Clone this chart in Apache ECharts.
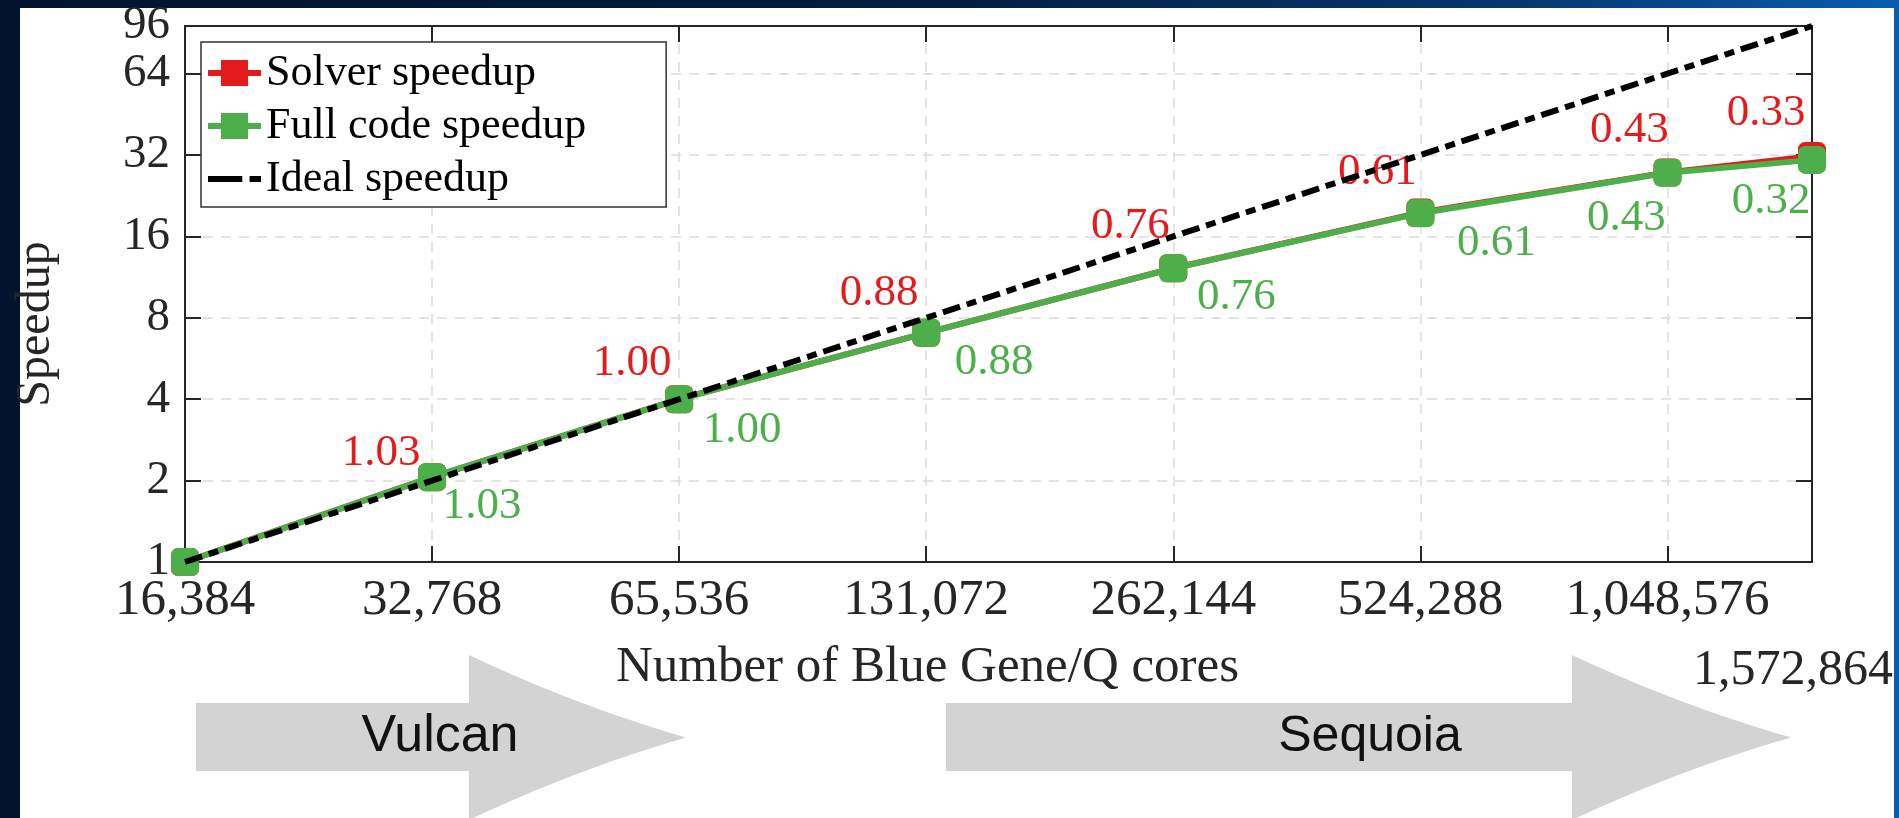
<!DOCTYPE html>
<html><head><meta charset="utf-8">
<script src="https://cdn.jsdelivr.net/npm/echarts@6/dist/echarts.min.js"></script>
<style>
html,body{margin:0;padding:0;width:1899px;height:818px;overflow:hidden;
background:linear-gradient(to right,#01132e 0%,#011a3e 45%,#05386f 80%,#0a5cb0 100%);}
#panel{position:absolute;left:20px;top:8px;width:1874px;height:810px;background:#fff;}
#chart{position:absolute;left:0;top:0;width:1899px;height:818px;}
</style></head><body><div id="panel"></div><div id="chart"></div>
<script>
// ---- data ----
const cores = [16384, 32768, 65536, 131072, 262144, 524288, 1048576, 1572864];
const solverSpeedup = [1, 2.06, 4.0, 7.04, 12.2, 19.6, 27.6, 31.7];
const fullSpeedup   = [1, 2.06, 4.0, 7.04, 12.2, 19.5, 27.5, 30.7];
const idealSpeedup  = [1, 2, 4, 8, 16, 32, 64, 96];
const solverEff = ['', '1.03', '1.00', '0.88', '0.76', '0.61', '0.43', '0.33'];
const fullEff   = ['', '1.03', '1.00', '0.88', '0.76', '0.61', '0.43', '0.32'];
const xTickLabels = [16384, 32768, 65536, 131072, 262144, 524288, 1048576];
const yTickLabels = [1, 2, 4, 8, 16, 32, 64, 96];
const seriesNames = ['Solver speedup', 'Full code speedup', 'Ideal speedup'];

// ---- styling / layout ----
const RED = '#e41a1c', GREEN = '#4daf4a', AX = '#262626';
const SERIF = '"Liberation Serif", "Times New Roman", serif';
const redLabelShift   = [[0, 0], [-51, -24], [-47, -36], [-47, -40], [-43, -42], [-43, -40], [-38, -42], [-46, -43]];
const greenLabelShift = [[0, 0], [50, 29], [63, 31], [68, 29], [63, 29], [76, 30], [-41, 45], [-41, 41]];
const ICON_MARKER = 'path://M0,10L13,10L13,0L40,0L40,10L53,10L53,16L40,16L40,26L13,26L13,16L0,16Z';
const ICON_DASH = 'path://M0,0L33,0L33,6L0,6ZM40,0L51,0L51,6L40,6Z';

function fmtX(v) {
  const r = Math.round(v);
  return xTickLabels.indexOf(r) >= 0 ? r.toLocaleString('en-US') : '';
}
function fmtY(v) {
  const r = Math.round(v);
  return yTickLabels.indexOf(r) >= 0 ? String(r) : '';
}

const solverData = cores.map((c, i) => ({
  value: [c, solverSpeedup[i]],
  label: { show: solverEff[i] !== '', formatter: solverEff[i], position: 'inside', offset: redLabelShift[i] }
}));
const fullData = cores.map((c, i) => ({
  value: [c, fullSpeedup[i]],
  label: { show: fullEff[i] !== '', formatter: fullEff[i], position: 'inside', offset: greenLabelShift[i] }
}));
const idealData = cores.map((c, i) => [c, idealSpeedup[i]]);

function arrowHead(bx, tx, top, bottom) {
  const cy = (top + bottom) / 2, L = tx - bx, h = cy - top, pts = [];
  const cx = bx + 0.5 * L, cyu = top + 0.62 * h, cyl = bottom - 0.62 * h;
  const N = 24;
  for (let k = 0; k <= N; k++) {
    const t = k / N, a = (1 - t) * (1 - t), b = 2 * (1 - t) * t, c = t * t;
    pts.push([a * bx + b * cx + c * tx, a * top + b * cyu + c * cy]);
  }
  for (let k = N - 1; k >= 0; k--) {
    const t = k / N, a = (1 - t) * (1 - t), b = 2 * (1 - t) * t, c = t * t;
    pts.push([a * bx + b * cx + c * tx, a * bottom + b * cyl + c * cy]);
  }
  return pts;
}

const axisCommon = () => ({
  type: 'log', logBase: 2,
  axisLine: { show: true, lineStyle: { color: AX, width: 2 } },
  axisTick: { show: true, inside: true, length: 16, lineStyle: { color: AX, width: 2 } },
  minorTick: { show: false },
  minorSplitLine: { show: false }
});
const IDEAL_DASH = [18, 7, 10, 7];

const chart = echarts.init(document.getElementById('chart'), null, { renderer: 'canvas' });
chart.setOption({
  animation: false,
  backgroundColor: 'transparent',
  grid: { left: 185, right: 87, top: 26, bottom: 256, containLabel: false },
  legend: {
    orient: 'vertical', left: 201, top: 42,
    itemWidth: 53, itemHeight: 26, itemGap: 9,
    symbolKeepAspect: true,
    padding: [9, 80, 6, 7],
    backgroundColor: '#fff', borderColor: '#333', borderWidth: 1.5, borderRadius: 0,
    textStyle: { fontFamily: SERIF, fontSize: 44, color: '#000' },
    data: [
      { name: seriesNames[0], icon: ICON_MARKER, itemStyle: { color: RED } },
      { name: seriesNames[1], icon: ICON_MARKER, itemStyle: { color: GREEN } },
      { name: seriesNames[2], icon: ICON_DASH, itemStyle: { color: '#000' } }
    ]
  },
  xAxis: [
    Object.assign(axisCommon(), {
      position: 'bottom', min: cores[0], max: cores[cores.length - 1],
      axisLabel: { show: true, formatter: fmtX, fontFamily: SERIF, fontSize: 51, color: AX, margin: 13, hideOverlap: false },
      splitLine: { show: true, lineStyle: { color: '#dcdcdc', width: 1.5, type: [10, 8] } },
      name: 'Number of Blue Gene/Q cores', nameLocation: 'middle', nameGap: 80,
      nameTextStyle: { fontFamily: SERIF, fontSize: 51, color: AX, padding: [0, 142, 0, 0] }
    }),
    Object.assign(axisCommon(), {
      position: 'top', min: cores[0], max: cores[cores.length - 1],
      axisLabel: { show: false }, splitLine: { show: false }
    })
  ],
  yAxis: [
    Object.assign(axisCommon(), {
      position: 'left', min: yTickLabels[0], max: yTickLabels[yTickLabels.length - 1],
      axisLabel: { show: true, formatter: fmtY, fontFamily: SERIF, fontSize: 47, color: AX, margin: 15,
                   showMaxLabel: true, showMinLabel: true, hideOverlap: false },
      splitLine: { show: true, lineStyle: { color: '#dcdcdc', width: 1.5, type: [10, 8] } },
      name: 'Speedup', nameLocation: 'middle', nameGap: 125,
      nameTextStyle: { fontFamily: SERIF, fontSize: 48, color: AX, padding: [0, 60, 0, 0] }
    }),
    Object.assign(axisCommon(), {
      position: 'right', min: yTickLabels[0], max: yTickLabels[yTickLabels.length - 1],
      axisLabel: { show: false }, splitLine: { show: false }
    })
  ],
  series: [
    {
      name: seriesNames[0], type: 'line', data: solverData, z: 2,
      symbol: 'roundRect', symbolSize: 28,
      lineStyle: { color: RED, width: 6 }, itemStyle: { color: RED },
      label: { fontFamily: SERIF, fontSize: 45, color: RED }
    },
    {
      name: seriesNames[1], type: 'line', data: fullData, z: 3,
      symbol: 'roundRect', symbolSize: 28,
      lineStyle: { color: GREEN, width: 6 }, itemStyle: { color: GREEN },
      label: { fontFamily: SERIF, fontSize: 45, color: GREEN }
    },
    {
      name: seriesNames[2], type: 'line', data: idealData, z: 4,
      symbol: 'none',
      lineStyle: { color: '#000', width: 6, type: IDEAL_DASH }, itemStyle: { color: '#000' }
    }
  ],
  graphic: [
    { type: 'rect', shape: { x: 196, y: 703, width: 274, height: 68 }, style: { fill: '#d3d3d3' }, z: 1 },
    { type: 'polygon', shape: { points: arrowHead(469, 686, 655, 820) }, style: { fill: '#d3d3d3' }, z: 1 },
    { type: 'rect', shape: { x: 946, y: 703, width: 627, height: 68 }, style: { fill: '#d3d3d3' }, z: 1 },
    { type: 'polygon', shape: { points: arrowHead(1572, 1791, 655, 820) }, style: { fill: '#d3d3d3' }, z: 1 },
    { type: 'text', z: 2, style: { text: 'Vulcan', x: 440, y: 737, textAlign: 'center', textVerticalAlign: 'middle',
      font: '52px "Liberation Sans", Arial, sans-serif', fill: '#111' } },
    { type: 'text', z: 2, style: { text: 'Sequoia', x: 1370, y: 737, textAlign: 'center', textVerticalAlign: 'middle',
      font: '50px "Liberation Sans", Arial, sans-serif', fill: '#111' } },
    { type: 'text', z: 2, style: { text: (cores[cores.length - 1]).toLocaleString('en-US'), x: 1893, y: 671,
      textAlign: 'right', textVerticalAlign: 'middle', font: '50px "Liberation Serif", serif', fill: AX } }
  ]
});
</script></body></html>
